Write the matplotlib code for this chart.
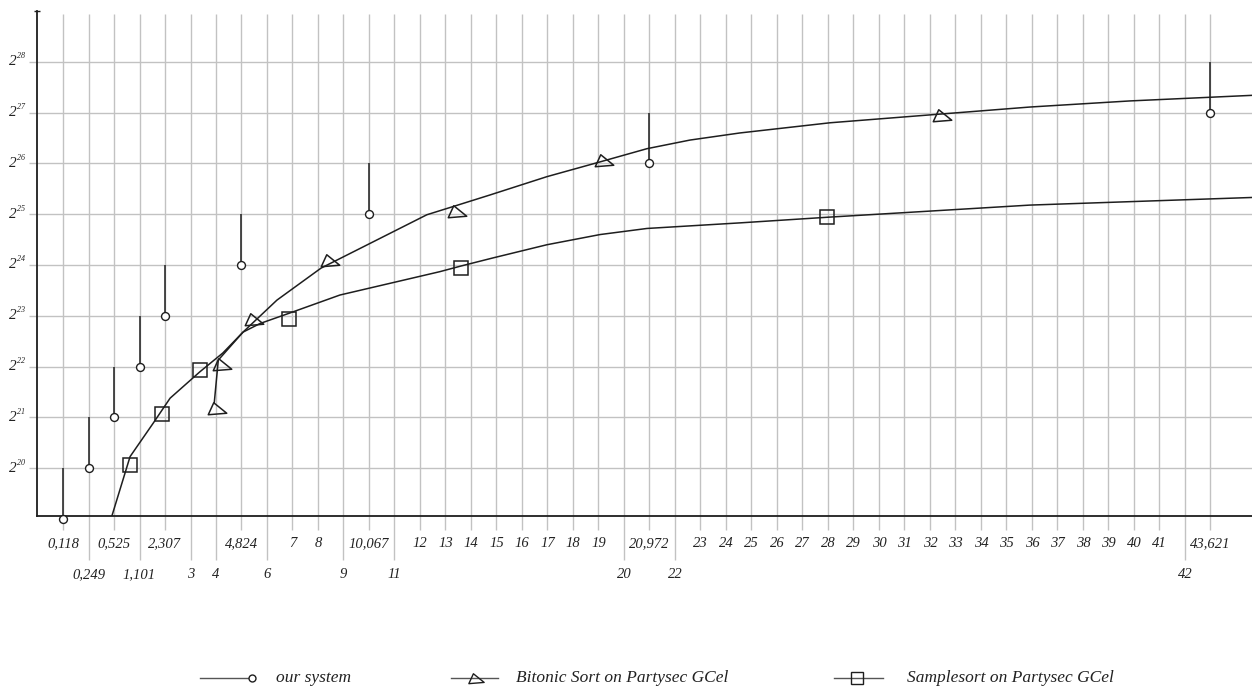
import numpy as np
import matplotlib
matplotlib.use('Agg')
import matplotlib.pyplot as plt
from matplotlib.path import Path
from matplotlib.lines import Line2D
from matplotlib.ticker import NullLocator

plt.rcParams['font.family'] = ['Liberation Serif', 'DejaVu Serif']
plt.rcParams['font.style'] = 'italic'

# ---- x axis (category slots) ----
upper_pos = [0, 2, 4, 7, 9, 10, 12, 14, 15, 16, 17, 18, 19, 20, 21, 23,
             25, 26, 27, 28, 29, 30, 31, 32, 33, 34, 35, 36, 37, 38, 39, 40, 41, 42, 43, 45]
upper_labels = ['0,118', '0,525', '2,307', '4,824', '7', '8', '10,067', '12', '13', '14',
                '15', '16', '17', '18', '19', '20,972',
                '23', '24', '25', '26', '27', '28', '29', '30', '31', '32', '33', '34',
                '35', '36', '37', '38', '39', '40', '41', '43,621']
lower_pos = [1, 3, 5, 6, 8, 11, 13, 22, 24, 44]
lower_labels = ['0,249', '1,101', '3', '4', '6', '9', '11', '20', '22', '42']

# ---- y axis (powers of two) ----
ytick_exp = [20, 21, 22, 23, 24, 25, 26, 27, 28]

# ---- our system ----
our_x = [0, 1, 2, 3, 4, 7, 12, 23, 45]
our_exp = [19, 20, 21, 22, 23, 24, 25, 26, 27]
our_upper_exp = [20, 21, 22, 23, 24, 25, 26, 27, 28]

# ---- Bitonic Sort on Partysec GCel ----
bitonic_mark_x = [6.04, 6.22, 7.49, 10.47, 15.44, 21.20, 34.47]
bitonic_mark_exp = [21.19, 22.05, 22.94, 24.09, 25.06, 26.07, 26.96]
bitonic_curve_x = [5.93, 6.09, 7.06, 8.39, 10.12, 14.27, 15.29, 16.75, 18.98, 21.06,
                   22.90, 24.59, 26.55, 30.08, 34.12, 37.92, 41.84, 46.63]
bitonic_curve_exp = [21.28, 22.13, 22.68, 23.31, 23.94, 24.99, 25.15, 25.38, 25.74, 26.03,
                     26.29, 26.46, 26.60, 26.80, 26.96, 27.11, 27.23, 27.34]

# ---- Samplesort on Partysec GCel ----
sample_mark_x = [2.63, 3.87, 5.37, 8.86, 15.60, 29.95]
sample_mark_exp = [20.06, 21.06, 21.93, 22.94, 23.94, 24.94]
sample_curve_x = [1.91, 2.63, 3.54, 4.20, 5.37, 6.27, 7.06, 7.73, 8.86, 10.86, 12.82,
                  14.78, 15.60, 16.86, 18.98, 21.06, 22.90, 26.55, 29.95, 37.92, 46.63]
sample_curve_exp = [19.05, 20.23, 20.89, 21.38, 21.90, 22.27, 22.68, 22.85, 23.05, 23.41,
                    23.64, 23.87, 23.98, 24.14, 24.40, 24.60, 24.72, 24.83, 24.94, 25.18, 25.33]

series_names = ['our system', 'Bitonic Sort on Partysec GCel', 'Samplesort on Partysec GCel']

INK = '#1e1e1e'
GRID = '#c2c2c2'
TXT = '#222222'

tri_marker = Path([(-9.25, -6.25), (-3.75, 5.75), (9.25, -4.75), (-9.25, -6.25)],
                  [Path.MOVETO, Path.LINETO, Path.LINETO, Path.CLOSEPOLY])

fig = plt.figure(figsize=(12.52, 6.88), dpi=100)
ax = fig.add_axes([37 / 1252, 172 / 688, 1215 / 1252, 505 / 688])
ax.set_yscale('log', base=2)
ax.set_xlim(-1.02, 46.63)
ax.set_ylim(2.0 ** 19.061, 2.0 ** 29.0)

p = lambda e: np.power(2.0, np.asarray(e, dtype=float))

# vertical grid lines (stop a little below the top of the axis)
ax.vlines(upper_pos + lower_pos, ax.get_ylim()[0], 2.0 ** 28.94, color=GRID, lw=1.0, zorder=0)
ax.grid(axis='y', which='major', color=GRID, lw=1.0, zorder=0)
ax.set_axisbelow(True)

# our system: point + vertical bar up to next power
ax.vlines(our_x, p(our_exp), p(our_upper_exp), color=INK, lw=1.1, zorder=3)
ax.plot(our_x, p(our_exp), ls='none', marker='o', ms=5.7, mfc='white', mec=INK,
        mew=1.0, zorder=4, clip_on=False)

# Bitonic
ax.plot(bitonic_curve_x, p(bitonic_curve_exp), color=INK, lw=1.1, zorder=3)
ax.plot(bitonic_mark_x, p(bitonic_mark_exp), ls='none', marker=tri_marker, ms=13.3,
        mfc='none', mec=INK, mew=1.1, zorder=4)

# Samplesort
ax.plot(sample_curve_x, p(sample_curve_exp), color=INK, lw=1.1, zorder=3)
ax.plot(sample_mark_x, p(sample_mark_exp), ls='none', marker='s', ms=9.4,
        mfc='none', mec=INK, mew=1.1, zorder=4)

# axes styling
for s in ['top', 'right']:
    ax.spines[s].set_visible(False)
ax.spines['left'].set_color(INK)
ax.spines['left'].set_linewidth(1.3)
ax.spines['bottom'].set_color(INK)
ax.spines['bottom'].set_linewidth(1.3)

ax.set_xticks(upper_pos)
ax.set_xticklabels(upper_labels)
ax.set_xticks(lower_pos, minor=True)
ax.set_xticklabels(lower_labels, minor=True)
ax.tick_params(axis='x', which='major', length=10, width=1, color=GRID, pad=5,
               labelsize=10.5, labelcolor=TXT)
ax.tick_params(axis='x', which='minor', length=31.7, width=1, color=GRID, pad=6,
               labelsize=10.5, labelcolor=TXT)

ax.yaxis.set_minor_locator(NullLocator())
ax.set_yticks(p(ytick_exp))
ax.set_yticklabels([''] * len(ytick_exp))
ax.tick_params(axis='y', which='major', length=6, width=1, color=GRID, pad=3)

# y tick labels: "2" with a small raised exponent
for e in ytick_exp:
    ax.annotate('2', xy=(0, 2.0 ** e), xycoords=('axes fraction', 'data'),
                xytext=(-14.6, -2.4), textcoords='offset points',
                ha='right', va='baseline', fontsize=11, color=TXT, annotation_clip=False)
    ax.annotate(str(e), xy=(0, 2.0 ** e), xycoords=('axes fraction', 'data'),
                xytext=(-14.4, 2.6), textcoords='offset points',
                ha='left', va='baseline', fontsize=5.8, color=TXT, annotation_clip=False)

# small cap on top of y axis
ax.plot([ax.get_xlim()[0]], [ax.get_ylim()[1]], marker='_', ms=5, color=INK,
        clip_on=False, zorder=5)

# ---- legend (drawn in figure pixels) ----
W, H = 1252.0, 688.0
ly = (H - 678) / H
def fx(px):
    return px / W

fig.add_artist(Line2D([fx(200), fx(250)], [ly, ly], color='#555555', lw=1.0))
fig.add_artist(Line2D([fx(252)], [ly], ls='none', marker='o', ms=5, mfc='white',
                      mec=INK, mew=1.0))
fig.text(fx(276), ly, series_names[0], va='center', ha='left', fontsize=12.5, color=TXT)

fig.add_artist(Line2D([fx(451), fx(498)], [ly, ly], color='#555555', lw=1.0))
fig.add_artist(Line2D([fx(476)], [ly], ls='none', marker=tri_marker, ms=11,
                      mfc='none', mec=INK, mew=1.0))
fig.text(fx(516), ly, series_names[1], va='center', ha='left', fontsize=12.5, color=TXT)

fig.add_artist(Line2D([fx(834), fx(883)], [ly, ly], color='#555555', lw=1.0))
fig.add_artist(Line2D([fx(857)], [ly], ls='none', marker='s', ms=8.5,
                      mfc='none', mec=INK, mew=1.0))
fig.text(fx(907), ly, series_names[2], va='center', ha='left', fontsize=12.5, color=TXT)

fig.savefig('out.png', dpi=100)
